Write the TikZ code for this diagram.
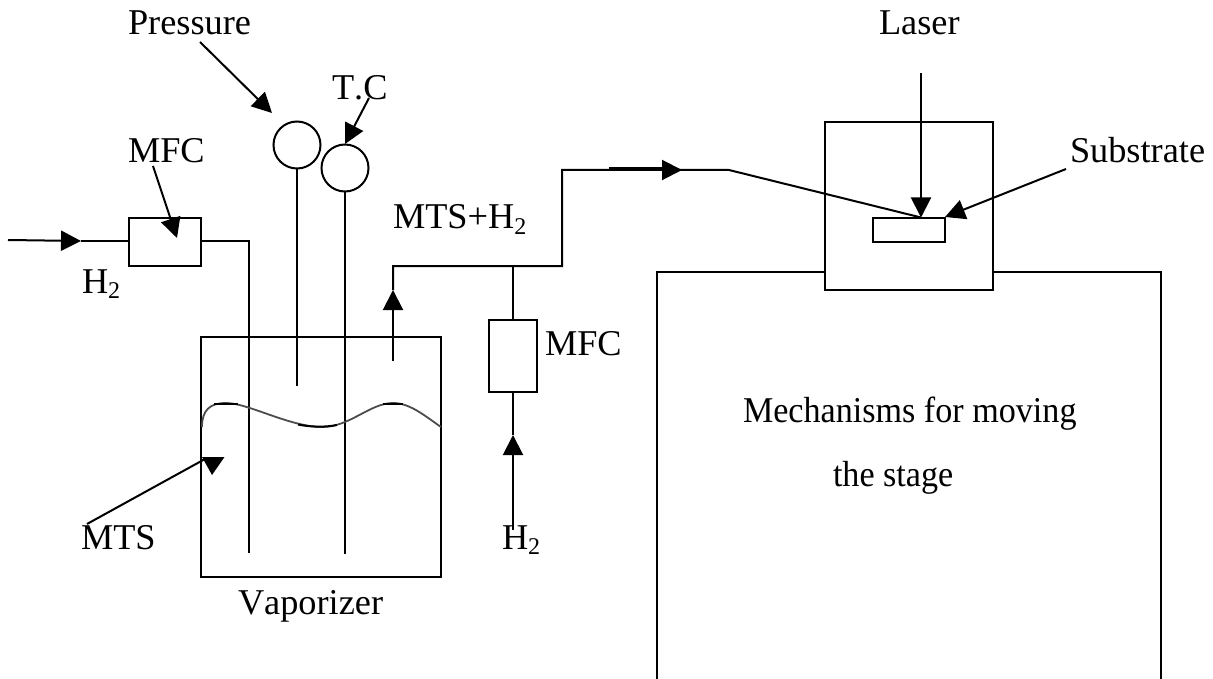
\documentclass[tikz,border=0pt]{standalone}
\usepackage{fontspec}
\setmainfont[Kerning=Off]{Liberation Serif}
\newfontfamily\narrowfont[FakeStretch=0.94,Kerning=Off]{Liberation Serif}
\usetikzlibrary{arrows.meta}
\newcommand{\subtwo}{\raisebox{-0.16em}{\fontsize{24}{24}\selectfont 2}}
\tikzset{
  pipe/.style={line width=2pt,line join=miter},
  flow/.style={pipe,-{Triangle[length=20pt,width=20pt]}},
  lbl/.style={anchor=base west,inner sep=0pt,outer sep=0pt,font=\fontsize{36.3}{40}\selectfont},
  box/.style={draw,line width=2pt,fill=none,inner sep=0pt,outer sep=0pt,anchor=north west},
  gauge/.style={draw,circle,line width=2pt,minimum size=47pt,inner sep=0pt,outer sep=0pt},
}
\begin{document}
\begin{tikzpicture}[x=1pt,y=-1pt]
\useasboundingbox (0,0) rectangle (1213,679);
\fill[white] (0,0) rectangle (1213,679);
% labels
\node[lbl] (pressure) at (128,35) {Pressure};
\node[lbl] (tc) at (332,100) {T.C};
\node[lbl] (mfca) at (128,163) {MFC};
\node[lbl] (hleft) at (82,293) {H\subtwo};
\node[lbl] (mts) at (81,549) {MTS};
\node[lbl] (vap) at (238,614) {Vaporizer};
\node[lbl] (mtsh) at (393,229) {MTS+H\subtwo};
\node[lbl] (mfcb) at (545,355) {MFC};
\node[lbl] (hbot) at (502,549) {H\subtwo};
\node[lbl] (laser) at (879,35) {Laser};
\node[lbl] (subs) at (1070,163) {Substrate};
\node[lbl] (mech) at (743,422) {\narrowfont Mechanisms for moving};
\node[lbl] (stage) at (833,486) {\narrowfont the stage};
% boxes
\node[box,minimum width=72pt,minimum height=48pt] (mfcboxa) at (129,218) {};
\node[box,minimum width=240pt,minimum height=240pt] (vapbox) at (201,337) {};
\node[box,minimum width=48pt,minimum height=72pt] (mfcboxb) at (489,320) {};
\node[box,minimum width=168pt,minimum height=168pt] (chamber) at (825,122) {};
\node[box,minimum width=72pt,minimum height=24pt] (subbox) at (873,218) {};
\node[gauge] (pg) at (297,145) {};
\node[gauge] (tg) at (345,168) {};
% coordinates
\coordinate (inS) at (8,240);
\coordinate (inT) at (81,241);
\coordinate (dipA) at (249,553);
\coordinate (dipAtop) at (249,241);
\coordinate (pEnd) at (297,386);
\coordinate (tEnd) at (345,554);
\coordinate (outS) at (393,361);
\coordinate (outT) at (393,290);
\coordinate (outC) at (393,266);
\coordinate (junc) at (513,266);
\coordinate (riseB) at (562,266);
\coordinate (riseT) at (562,170);
\coordinate (flowT) at (682,170);
\coordinate (bend) at (729,170);
\coordinate (hit) at (921,217.5);
\coordinate (laserS) at (921,73);
\coordinate (h2S) at (513,530);
\coordinate (h2T) at (513,435);
\coordinate (stTL) at (657,272);
\coordinate (stTR) at (1161,272);
\coordinate (stBL) at (657,679);
\coordinate (stBR) at (1161,679);
% stage
\draw[pipe] (stBL) -- (stTL) -- (stTL -| chamber.west);
\draw[pipe] (stTR -| chamber.east) -- (stTR) -- (stBR);
% pipes
\draw[flow] (inS) -- (inT);
\draw[pipe] (inT) -- (mfcboxa.west |- inT);
\draw[pipe] (mfcboxa.east |- inT) -- (dipAtop) -- (dipA);
\draw[pipe] (pg.south) -- (pEnd);
\draw[pipe] (tg.south) -- (tEnd);
\draw[flow] (outS) -- (outT);
\draw[pipe] (outT) -- (outC) -- (riseB) -- (riseT) -- (bend) -- (hit);
\draw[flow] (riseT) -- (flowT);
\draw[line width=3pt] (609,169) -- (662,169);
\draw[pipe] (junc) -- (mfcboxb.north);
\draw[pipe] (mfcboxb.south) -- (h2T);
\draw[flow] (h2S) -- (h2T);
\draw[flow] (laserS) -- (hit);
% pointers
\coordinate (pA) at (200,42); \coordinate (pB) at (272,113);
\draw[flow] (pA) -- (pB);
\coordinate (tA) at (369,98); \coordinate (tB) at (345,144);
\draw[flow] (tA) -- (tB);
\coordinate (mA) at (153,166); \coordinate (mB) at (177,238);
\draw[flow] (mA) -- (mB);
\coordinate (sA) at (1066,169); \coordinate (sB) at (945,217);
\draw[flow] (sA) -- (sB);
\coordinate (nA) at (87,524); \coordinate (nB) at (205,459);
\draw[pipe] (nA) -- (nB);
\fill (202,457) -- (224.5,457) -- (212,475) -- cycle;
% liquid surface
\draw[line width=1.8pt,black!70] (202,427) .. controls (202,410) and (210,403) .. (226,403)
  .. controls (248,403) and (290,427) .. (322,427)
  .. controls (350,427) and (370,403) .. (393,403)
  .. controls (410,403) and (425,416) .. (441,427);
\draw[line width=2pt] (214,403.7) -- (238,403.7);
\draw[line width=2pt] (383,403.5) -- (403,403.5);
\draw[line width=2pt] (298,424.5) .. controls (310,427) and (325,427.5) .. (337,425);
\end{tikzpicture}
\end{document}
